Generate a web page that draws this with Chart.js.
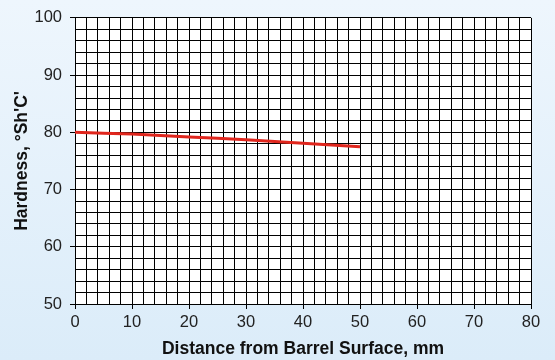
<!DOCTYPE html>
<html>
<head>
<meta charset="utf-8">
<script src="https://cdn.jsdelivr.net/npm/chart.js@4.4.0/dist/chart.umd.min.js"></script>
<style>
  html, body { margin: 0; padding: 0; }
  body { width: 555px; height: 360px; background: linear-gradient(#eef6fd, #dbecf9); }
  #wrap { width: 555px; height: 360px; }
</style>
</head>
<body>
<div id="wrap"><canvas id="hardnessChart" width="555" height="360"></canvas></div>
<script>
// Data
const distances = [0, 10, 20, 30, 40, 50];
const hardness = [80, 79.7, 79.2, 78.7, 78.1, 77.5];
const xTitle = 'Distance from Barrel Surface, mm';
const yTitle = "Hardness, °Sh'C'";

const points = distances.map((d, i) => ({ x: d, y: hardness[i] }));

// White plot area
const plotBackground = {
    id: 'plotBackground',
    beforeDraw(chart) {
        const { ctx, chartArea } = chart;
        ctx.save();
        ctx.fillStyle = '#ffffff';
        ctx.fillRect(chartArea.left, chartArea.top, chartArea.right - chartArea.left, chartArea.bottom - chartArea.top);
        ctx.restore();
    }
};

const majorTick = (ctx) => (ctx.tick && ctx.tick.value % 10 === 0) ? '#000000' : 'rgba(0,0,0,0)';

const ctx = document.getElementById('hardnessChart').getContext('2d');
const chart = new Chart(ctx, {
    type: 'line',
    data: {
        datasets: [{
            data: points,
            borderColor: '#e0261d',
            borderWidth: 3,
            pointRadius: 0,
            fill: false,
            tension: 0.2
        }]
    },
    options: {
        responsive: false,
        animation: false,
        layout: { padding: { top: 13, right: 24, left: 0, bottom: 0 } },
        plugins: {
            legend: { display: false },
            tooltip: { enabled: false }
        },
        scales: {
            x: {
                type: 'linear',
                min: 0,
                max: 80,
                afterFit(scale) { scale.height = 56; },
                ticks: {
                    stepSize: 2,
                    autoSkip: false,
                    maxRotation: 0,
                    padding: 4,
                    color: '#222222',
                    font: { family: 'Liberation Sans', size: 16.5 },
                    callback: (v) => v % 10 === 0 ? v : ''
                },
                grid: { color: '#000000', lineWidth: 1, tickLength: 5, tickColor: majorTick },
                border: { color: '#000000', width: 1 },
                title: {
                    display: true,
                    text: xTitle,
                    color: '#111111',
                    font: { family: 'Liberation Sans', size: 17.5, weight: 'bold' },
                    padding: { top: 2, bottom: 0 }
                }
            },
            y: {
                min: 50,
                max: 100,
                afterFit(scale) { scale.width = 75; },
                ticks: {
                    stepSize: 2,
                    autoSkip: false,
                    padding: 8,
                    color: '#222222',
                    font: { family: 'Liberation Sans', size: 16.5 },
                    callback: (v) => v % 10 === 0 ? v : ''
                },
                grid: { color: '#000000', lineWidth: 1, tickLength: 5, tickColor: majorTick },
                border: { color: '#000000', width: 1 },
                title: {
                    display: true,
                    text: yTitle,
                    color: '#111111',
                    font: { family: 'Liberation Sans', size: 17.5, weight: 'bold' },
                    padding: { top: 12, bottom: 0 }
                }
            }
        }
    },
    plugins: [plotBackground]
});
</script>
</body>
</html>
